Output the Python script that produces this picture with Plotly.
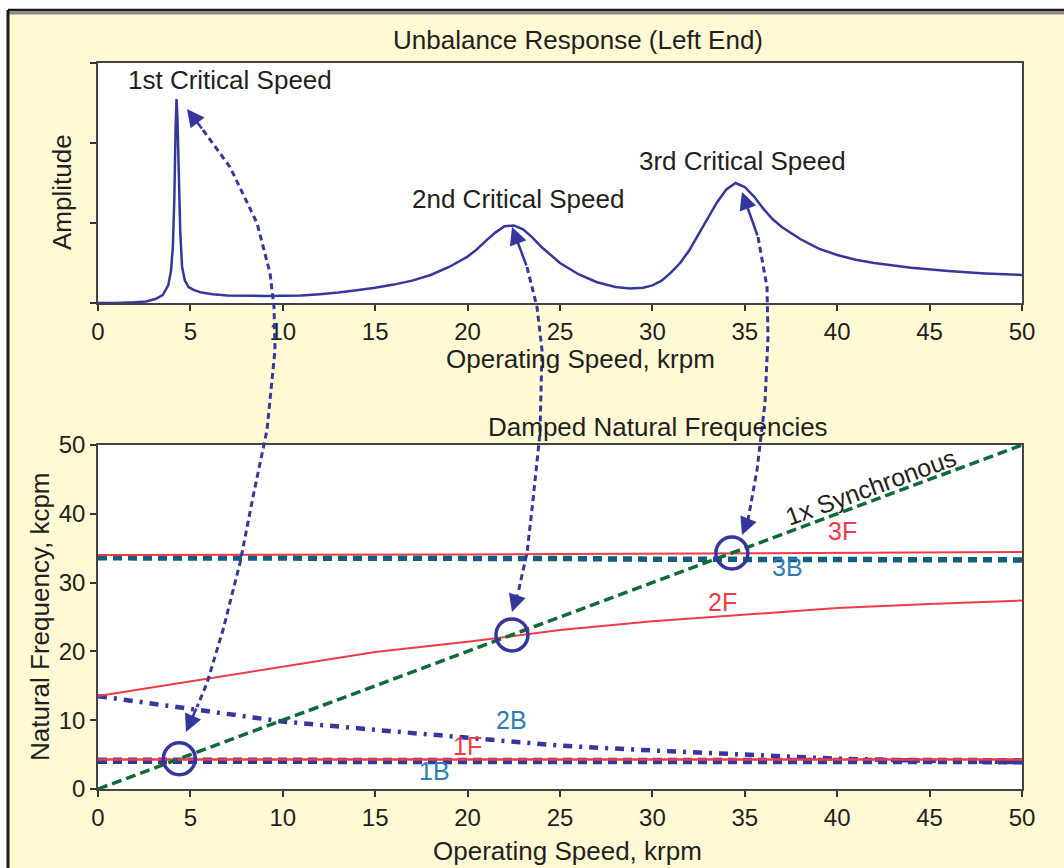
import plotly.graph_objects as go

# ---------------- data ----------------
# Unbalance response (left end), amplitude in arbitrary units (3 tick intervals)
resp_speed = [0, 1, 2, 2.6, 3.1, 3.5, 3.8, 3.95, 4.05, 4.13, 4.2, 4.25, 4.3, 4.38, 4.45,
              4.55, 4.7, 4.9, 5.2, 5.6, 6.2, 7, 8, 9, 10, 11, 12, 13, 14, 15, 16, 17, 18,
              19, 20, 20.5, 21, 21.5, 22, 22.5, 23, 23.5, 24, 25, 26, 27, 28, 28.8, 29.5,
              30, 30.5, 31, 31.5, 32, 32.5, 33, 33.5, 34, 34.5, 35, 35.5, 36, 36.5, 37,
              38, 39, 40, 41, 42, 44, 46, 48, 50]
resp_amp = [0, 0, 0.01, 0.02, 0.05, 0.1, 0.22, 0.4, 0.7, 1.3, 2.2, 2.55, 2.3, 1.6, 0.9,
            0.45, 0.28, 0.2, 0.16, 0.13, 0.11, 0.095, 0.09, 0.088, 0.09, 0.095, 0.11, 0.13,
            0.16, 0.19, 0.23, 0.28, 0.35, 0.45, 0.58, 0.67, 0.78, 0.88, 0.96, 0.97, 0.92,
            0.82, 0.7, 0.5, 0.36, 0.26, 0.2, 0.18, 0.19, 0.22, 0.28, 0.38, 0.5, 0.66, 0.86,
            1.06, 1.26, 1.42, 1.5, 1.45, 1.33, 1.18, 1.05, 0.95, 0.8, 0.68, 0.6, 0.54, 0.5,
            0.44, 0.4, 0.37, 0.35]

# Damped natural frequencies (kcpm) vs operating speed (krpm)
nf_speed = [0, 5, 10, 15, 20, 25, 30, 35, 40, 45, 50]
f_3F = [34.0, 34.0, 34.0, 34.05, 34.1, 34.15, 34.2, 34.3, 34.35, 34.4, 34.45]
f_3B = [33.6, 33.6, 33.5, 33.5, 33.5, 33.5, 33.4, 33.4, 33.4, 33.3, 33.3]
f_2F = [13.5, 15.6, 17.8, 19.9, 21.4, 23.1, 24.4, 25.4, 26.3, 26.9, 27.4]
f_2B = [13.5, 11.6, 9.8, 8.6, 7.5, 6.3, 5.6, 5.0, 4.4, 4.1, 3.9]
f_1F = [4.3, 4.3, 4.3, 4.3, 4.3, 4.3, 4.3, 4.3, 4.3, 4.3, 4.3]
f_1B = [4.1, 4.1, 4.1, 4.1, 4.1, 4.1, 4.1, 4.1, 4.1, 4.05, 4.05]
sync_speed = [0, 50]
sync_freq = [0, 50]

crit_speed = [4.4, 22.4, 34.3]
crit_freq = [4.4, 22.4, 34.3]

# ---------------- styling ----------------
NAVY = '#35379D'
RED = '#EE3B48'
TEAL = '#0F5F80'
GREEN = '#0E6B37'
LBLUE = '#2C7DB5'
TXT = '#231F20'
BEIGE = '#FFF9D4'
FONT = 'Liberation Sans, Arial, Helvetica, sans-serif'

W, H = 1064, 868
L, R, T, B = 98, 42, 63, 79
PW, PH = W - L - R, H - T - B


def pp(px, py):
    return (px - L) / PW, (H - B - py) / PH


fig = go.Figure()

fig.add_trace(go.Scatter(x=resp_speed, y=resp_amp, xaxis='x', yaxis='y', mode='lines',
                         line=dict(color=NAVY, width=2.5), showlegend=False))

fig.add_trace(go.Scatter(x=nf_speed, y=f_3B, xaxis='x2', yaxis='y2', mode='lines',
                         line=dict(color=TEAL, width=5.5, dash='9px,6px'), showlegend=False))
fig.add_trace(go.Scatter(x=nf_speed, y=f_3F, xaxis='x2', yaxis='y2', mode='lines',
                         line=dict(color=RED, width=2), showlegend=False))
fig.add_trace(go.Scatter(x=nf_speed, y=f_2B, xaxis='x2', yaxis='y2', mode='lines',
                         line=dict(color=NAVY, width=4.5, dash='9px,7px,3px,7px'), showlegend=False))
fig.add_trace(go.Scatter(x=nf_speed, y=f_2F, xaxis='x2', yaxis='y2', mode='lines',
                         line=dict(color=RED, width=2), showlegend=False))
fig.add_trace(go.Scatter(x=nf_speed, y=f_1B, xaxis='x2', yaxis='y2', mode='lines',
                         line=dict(color=NAVY, width=6.5, dash='9px,6px'), showlegend=False))
fig.add_trace(go.Scatter(x=nf_speed, y=f_1F, xaxis='x2', yaxis='y2', mode='lines',
                         line=dict(color=RED, width=2.5), showlegend=False))
fig.add_trace(go.Scatter(x=sync_speed, y=sync_freq, xaxis='x2', yaxis='y2', mode='lines',
                         line=dict(color=GREEN, width=3.5, dash='10px,5px'), showlegend=False))
fig.add_trace(go.Scatter(x=crit_speed, y=crit_freq, xaxis='x2', yaxis='y2', mode='markers',
                         marker=dict(symbol='circle-open', size=32, color=NAVY,
                                     line=dict(width=3.5, color=NAVY)), showlegend=False))

axis_common = dict(range=[0, 50], tickvals=list(range(0, 51, 5)), ticks='outside', ticklen=6,
                   tickwidth=1.5, tickcolor='#333', showline=True, mirror=True, linecolor='#444',
                   linewidth=1.5, showgrid=False, zeroline=False,
                   tickfont=dict(size=24, color=TXT, family=FONT))

top_bottom = (H - B - 303) / PH
bot_top = (H - B - 445) / PH

fig.update_layout(
    width=W, height=H,
    margin=dict(l=L, r=R, t=T, b=B),
    paper_bgcolor=BEIGE, plot_bgcolor='white',
    font=dict(family=FONT, color=TXT),
    xaxis=dict(domain=[0, 1], anchor='y', **axis_common),
    yaxis=dict(domain=[top_bottom, 1], anchor='x', range=[0, 3], tickvals=[0, 1, 2, 3],
               showticklabels=False, ticks='outside', ticklen=6, tickwidth=1.5, tickcolor='#333',
               showline=True, mirror=True, linecolor='#444', linewidth=1.5, showgrid=False,
               zeroline=False),
    xaxis2=dict(domain=[0, 1], anchor='y2', **axis_common),
    yaxis2=dict(domain=[0, bot_top], anchor='x2', range=[0, 50], tickvals=list(range(0, 51, 10)),
                ticks='outside', ticklen=6, tickwidth=1.5, tickcolor='#333', showline=True,
                mirror=True, linecolor='#444', linewidth=1.5, showgrid=False, zeroline=False,
                tickfont=dict(size=24, color=TXT, family=FONT)),
)

ann = []


def text_paper(txt, px, py, size=26, color=TXT, angle=0):
    x, y = pp(px, py)
    ann.append(dict(text=txt, x=x, y=y, xref='paper', yref='paper', showarrow=False,
                    xanchor='center', yanchor='middle', textangle=angle,
                    font=dict(size=size, color=color, family=FONT)))


def text_data(txt, x, y, xr, yr, size=26, color=TXT, angle=0):
    ann.append(dict(text=txt, x=x, y=y, xref=xr, yref=yr, showarrow=False,
                    xanchor='center', yanchor='middle', textangle=angle,
                    font=dict(size=size, color=color, family=FONT)))


text_paper('Unbalance Response (Left End)', 578, 40)
text_paper('Damped Natural Frequencies', 658, 427)
text_paper('Operating Speed, krpm', 580, 359)
text_paper('Operating Speed, krpm', 567, 851)
text_paper('Amplitude', 62, 192, angle=-90)
text_paper('Natural Frequency, kcpm', 40, 617, angle=-90)

text_data('1st Critical Speed', 7.14, 2.79, 'x', 'y')
text_data('2nd Critical Speed', 22.7, 1.3, 'x', 'y')
text_data('3rd Critical Speed', 34.9, 1.775, 'x', 'y')

text_data('1x Synchronous', 41.8, 43.9, 'x2', 'y2', size=25, angle=-20)
text_data('3F', 40.3, 37.5, 'x2', 'y2', size=25, color=RED)
text_data('3B', 37.3, 32.3, 'x2', 'y2', size=25, color=LBLUE)
text_data('2F', 33.8, 27.2, 'x2', 'y2', size=25, color=RED)
text_data('2B', 22.35, 10.0, 'x2', 'y2', size=25, color=LBLUE)
text_data('1F', 20.0, 6.25, 'x2', 'y2', size=25, color=RED)
text_data('1B', 18.2, 2.6, 'x2', 'y2', size=25, color=LBLUE)

# curved double-headed arrows linking critical speeds and crossings (pixel geometry)
arrow_paths = [
    [(187, 109), (203, 130), (230, 167), (257, 223), (270, 273), (274, 307), (275, 350),
     (267, 430), (253, 497), (240, 563), (223, 630), (207, 683), (197, 707), (186, 732)],
    [(512, 227), (527, 267), (537, 307), (542, 350), (540, 433), (533, 500), (527, 553),
     (518, 593), (512, 612)],
    [(742, 192), (758, 237), (767, 287), (768, 337), (765, 403), (757, 470), (748, 520),
     (742, 535)],
]

shapes = []
for pts in arrow_paths:
    body = pts[1:-1]
    path = 'M ' + ' L '.join('%.5f,%.5f' % pp(px, py) for px, py in body)
    shapes.append(dict(type='path', path=path, xref='paper', yref='paper', layer='above',
                       line=dict(color=NAVY, width=3, dash='6px,4px')))
    for head, nxt in ((pts[0], pts[1]), (pts[-1], pts[-2])):
        x, y = pp(*head)
        ann.append(dict(text='', x=x, y=y, xref='paper', yref='paper', showarrow=True,
                        ax=nxt[0] - head[0], ay=nxt[1] - head[1], arrowhead=2, arrowsize=1.4,
                        arrowwidth=2.5, arrowcolor=NAVY))

# outer frame: white strips top/left and dark border lines
x_left, _ = pp(0, 0)
x_brd, _ = pp(8, 0)
_, y_top = pp(0, 0)
_, y_brd = pp(0, 10)
_, y_gray = pp(0, 13)
x_far, _ = pp(W + 20, 0)
_, y_far = pp(0, H + 20)
shapes += [
    dict(type='rect', xref='paper', yref='paper', x0=x_left - 0.05, x1=x_far, y0=y_brd,
         y1=y_top + 0.05, fillcolor='white', line=dict(width=0), layer='above'),
    dict(type='rect', xref='paper', yref='paper', x0=x_left - 0.05, x1=x_brd, y0=y_far,
         y1=y_top + 0.05, fillcolor='white', line=dict(width=0), layer='above'),
    dict(type='line', xref='paper', yref='paper', x0=x_brd, x1=x_far, y0=y_gray, y1=y_gray,
         line=dict(color='#8A8A8A', width=3), layer='above'),
    dict(type='line', xref='paper', yref='paper', x0=x_brd, x1=x_far, y0=y_brd, y1=y_brd,
         line=dict(color='#1A1A1A', width=2.5), layer='above'),
    dict(type='line', xref='paper', yref='paper', x0=x_brd, x1=x_brd, y0=y_far, y1=y_brd,
         line=dict(color='#1A1A1A', width=3), layer='above'),
]

fig.update_layout(annotations=ann, shapes=shapes)
fig.write_html('out.html')
